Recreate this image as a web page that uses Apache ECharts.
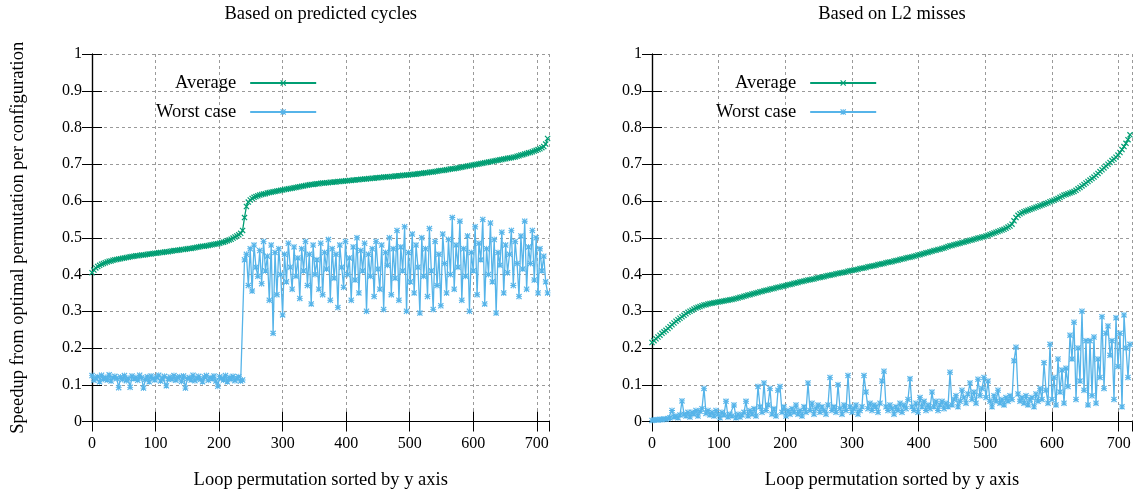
<!DOCTYPE html>
<html>
<head>
<meta charset="utf-8">
<script src="https://cdn.jsdelivr.net/npm/echarts@6/dist/echarts.min.js"></script>
<style>
  html, body { margin: 0; padding: 0; background: #fff; }
  #chart { width: 1138px; height: 495px; }
</style>
</head>
<body>
<div id="chart"></div>
<script>
// Loop permutations are ranked 0..719; every third rank is plotted.
const rankStep = 3;

// Speedup, ranking by predicted cycles
const cyclesAverage = [
  0.405,0.412,0.418,0.422,0.425,0.428,0.430,0.432,0.434,0.436,
  0.437,0.439,0.440,0.441,0.442,0.443,0.444,0.445,0.446,0.447,
  0.448,0.449,0.450,0.451,0.451,0.452,0.453,0.453,0.454,0.455,
  0.456,0.456,0.457,0.458,0.458,0.459,0.460,0.460,0.461,0.462,
  0.462,0.463,0.464,0.465,0.465,0.466,0.467,0.468,0.468,0.469,
  0.470,0.471,0.471,0.472,0.473,0.474,0.475,0.476,0.477,0.477,
  0.478,0.479,0.480,0.481,0.482,0.483,0.484,0.485,0.487,0.488,
  0.490,0.492,0.494,0.496,0.499,0.502,0.505,0.508,0.512,0.520,
  0.555,0.585,0.597,0.603,0.607,0.610,0.612,0.614,0.616,0.618,
  0.619,0.620,0.622,0.623,0.624,0.625,0.626,0.627,0.628,0.629,
  0.630,0.631,0.632,0.633,0.634,0.635,0.636,0.637,0.638,0.639,
  0.640,0.641,0.642,0.643,0.644,0.645,0.645,0.646,0.647,0.647,
  0.648,0.649,0.649,0.650,0.650,0.651,0.651,0.652,0.652,0.653,
  0.653,0.654,0.654,0.655,0.655,0.656,0.656,0.657,0.657,0.658,
  0.658,0.659,0.659,0.660,0.660,0.661,0.661,0.662,0.662,0.663,
  0.663,0.664,0.664,0.665,0.665,0.666,0.666,0.667,0.667,0.668,
  0.668,0.669,0.669,0.670,0.670,0.671,0.671,0.672,0.672,0.673,
  0.673,0.674,0.675,0.675,0.676,0.677,0.677,0.678,0.679,0.679,
  0.680,0.681,0.682,0.683,0.683,0.684,0.685,0.686,0.687,0.688,
  0.688,0.689,0.690,0.691,0.692,0.693,0.694,0.695,0.696,0.697,
  0.698,0.699,0.700,0.701,0.702,0.703,0.704,0.705,0.706,0.707,
  0.708,0.709,0.710,0.711,0.712,0.713,0.714,0.715,0.716,0.717,
  0.718,0.719,0.720,0.722,0.723,0.725,0.726,0.728,0.729,0.731,
  0.732,0.734,0.736,0.738,0.740,0.742,0.745,0.748,0.755,0.770
];
const cyclesWorst = [
  0.125,0.112,0.118,0.122,0.108,0.126,0.115,0.120,0.113,0.127,
  0.110,0.119,0.123,0.117,0.092,0.121,0.114,0.125,0.111,0.118,
  0.093,0.124,0.116,0.120,0.112,0.126,0.119,0.091,0.115,0.122,
  0.108,0.124,0.117,0.113,0.121,0.126,0.110,0.118,0.123,0.097,
  0.116,0.121,0.114,0.125,0.112,0.119,0.122,0.109,0.124,0.091,
  0.117,0.120,0.113,0.126,0.111,0.118,0.123,0.115,0.108,0.121,
  0.125,0.112,0.119,0.116,0.124,0.110,0.096,0.122,0.117,0.113,
  0.125,0.108,0.120,0.115,0.123,0.111,0.118,0.122,0.110,0.113,
  0.440,0.455,0.370,0.470,0.355,0.480,0.420,0.395,0.465,0.375,
  0.490,0.410,0.450,0.330,0.480,0.240,0.460,0.345,0.470,0.400,
  0.290,0.455,0.380,0.485,0.420,0.360,0.475,0.395,0.445,0.335,
  0.470,0.410,0.490,0.370,0.455,0.320,0.480,0.400,0.440,0.360,
  0.485,0.345,0.460,0.415,0.495,0.330,0.470,0.390,0.455,0.310,
  0.480,0.420,0.365,0.490,0.400,0.445,0.330,0.475,0.385,0.500,
  0.350,0.465,0.410,0.485,0.300,0.455,0.395,0.470,0.340,0.490,
  0.415,0.360,0.480,0.305,0.460,0.425,0.500,0.345,0.470,0.390,
  0.520,0.330,0.475,0.410,0.530,0.300,0.460,0.380,0.510,0.350,
  0.480,0.420,0.295,0.500,0.395,0.470,0.340,0.525,0.410,0.305,
  0.490,0.370,0.455,0.315,0.510,0.430,0.350,0.495,0.400,0.555,
  0.360,0.480,0.420,0.545,0.330,0.470,0.395,0.505,0.300,0.460,
  0.410,0.530,0.345,0.485,0.440,0.550,0.320,0.470,0.400,0.540,
  0.380,0.495,0.295,0.460,0.425,0.515,0.350,0.480,0.405,0.455,
  0.520,0.370,0.490,0.430,0.340,0.505,0.415,0.545,0.360,0.475,
  0.430,0.520,0.385,0.500,0.350,0.470,0.410,0.450,0.380,0.350
];

// Speedup, ranking by L2 misses
const l2Average = [
  0.215,0.220,0.225,0.230,0.235,0.240,0.244,0.248,0.253,0.258,
  0.263,0.268,0.273,0.277,0.281,0.285,0.289,0.293,0.297,0.300,
  0.303,0.306,0.309,0.311,0.313,0.315,0.317,0.318,0.320,0.321,
  0.322,0.323,0.324,0.325,0.326,0.327,0.328,0.329,0.330,0.331,
  0.332,0.333,0.335,0.336,0.338,0.339,0.341,0.342,0.344,0.345,
  0.347,0.348,0.350,0.351,0.353,0.354,0.356,0.357,0.358,0.360,
  0.361,0.362,0.364,0.365,0.366,0.368,0.369,0.370,0.372,0.373,
  0.374,0.376,0.377,0.378,0.380,0.381,0.382,0.384,0.385,0.386,
  0.387,0.388,0.390,0.391,0.392,0.393,0.394,0.396,0.397,0.398,
  0.399,0.400,0.402,0.403,0.404,0.405,0.406,0.407,0.409,0.410,
  0.411,0.412,0.413,0.414,0.416,0.417,0.418,0.419,0.421,0.422,
  0.423,0.424,0.425,0.427,0.428,0.429,0.430,0.432,0.433,0.434,
  0.435,0.437,0.438,0.439,0.441,0.442,0.443,0.445,0.446,0.447,
  0.448,0.450,0.451,0.453,0.454,0.456,0.457,0.459,0.460,0.462,
  0.463,0.465,0.466,0.468,0.469,0.471,0.472,0.474,0.476,0.478,
  0.479,0.481,0.482,0.484,0.485,0.487,0.488,0.490,0.491,0.493,
  0.494,0.496,0.497,0.499,0.500,0.502,0.503,0.505,0.507,0.509,
  0.511,0.513,0.515,0.517,0.519,0.521,0.523,0.526,0.529,0.532,
  0.537,0.546,0.555,0.561,0.565,0.568,0.571,0.573,0.575,0.577,
  0.579,0.581,0.583,0.585,0.587,0.589,0.591,0.593,0.595,0.598,
  0.600,0.602,0.605,0.607,0.610,0.613,0.616,0.618,0.620,0.622,
  0.624,0.626,0.629,0.633,0.637,0.641,0.645,0.649,0.653,0.657,
  0.661,0.665,0.670,0.675,0.680,0.685,0.690,0.695,0.700,0.705,
  0.710,0.714,0.719,0.725,0.732,0.740,0.748,0.757,0.767,0.780
];
const l2Worst = [
  0.003,0.004,0.005,0.004,0.006,0.005,0.007,0.006,0.008,0.010,
  0.030,0.012,0.015,0.010,0.018,0.056,0.020,0.015,0.025,0.012,
  0.025,0.020,0.030,0.015,0.028,0.035,0.090,0.022,0.030,0.018,
  0.025,0.015,0.030,0.020,0.010,0.025,0.018,0.055,0.012,0.020,
  0.015,0.045,0.010,0.020,0.012,0.018,0.025,0.055,0.015,0.030,
  0.020,0.035,0.015,0.095,0.040,0.025,0.105,0.030,0.045,0.090,
  0.020,0.035,0.015,0.085,0.095,0.025,0.040,0.015,0.030,0.020,
  0.035,0.025,0.045,0.020,0.030,0.015,0.040,0.025,0.105,0.030,
  0.050,0.020,0.035,0.045,0.025,0.040,0.030,0.020,0.045,0.120,
  0.030,0.040,0.025,0.100,0.035,0.020,0.045,0.030,0.125,0.040,
  0.025,0.035,0.045,0.020,0.030,0.040,0.125,0.080,0.035,0.050,
  0.030,0.045,0.040,0.025,0.050,0.110,0.137,0.040,0.030,0.045,
  0.035,0.020,0.040,0.030,0.050,0.025,0.045,0.035,0.060,0.116,
  0.040,0.030,0.050,0.025,0.065,0.040,0.055,0.030,0.045,0.035,
  0.080,0.040,0.055,0.030,0.045,0.055,0.035,0.050,0.040,0.134,
  0.045,0.060,0.070,0.040,0.055,0.085,0.065,0.050,0.075,0.105,
  0.060,0.080,0.050,0.115,0.070,0.090,0.120,0.065,0.110,0.055,
  0.040,0.070,0.055,0.085,0.050,0.060,0.045,0.065,0.055,0.070,
  0.060,0.165,0.202,0.075,0.055,0.065,0.050,0.070,0.045,0.060,
  0.065,0.040,0.075,0.055,0.090,0.060,0.160,0.085,0.050,0.210,
  0.060,0.120,0.045,0.170,0.080,0.140,0.050,0.145,0.095,0.235,
  0.170,0.270,0.060,0.200,0.110,0.300,0.085,0.220,0.045,0.220,
  0.070,0.230,0.050,0.170,0.120,0.285,0.090,0.240,0.260,0.180,
  0.220,0.060,0.282,0.150,0.240,0.040,0.290,0.200,0.120,0.210
];

const panelTitles = ['Based on predicted cycles', 'Based on L2 misses'];
const seriesNames = ['Average', 'Worst case'];
const xAxisTitle = 'Loop permutation sorted by y axis';
const yAxisTitle = 'Speedup from optimal permutation per configuration';

const GREEN = '#009e73';
const BLUE = '#56b4e9';
const FONT = '"Liberation Serif", "Times New Roman", serif';

// gnuplot-like point types: cross and asterisk
const CROSS = 'path://M0,1.4L1.4,0L10,8.6L8.6,10ZM8.6,0L10,1.4L1.4,10L0,8.6Z';
const STAR = 'path://M0,1.4L1.4,0L10,8.6L8.6,10ZM8.6,0L10,1.4L1.4,10L0,8.6ZM4.3,0L5.7,0L5.7,10L4.3,10ZM0,4.3L10,4.3L10,5.7L0,5.7Z';

const toPoints = arr => arr.map((v, i) => [i * rankStep, v]);

const grids = [
  { left: 92, top: 54, width: 457.5, height: 367.5 },
  { left: 652, top: 54, width: 480, height: 367.5 }
];

const dashedGrid = { show: true, lineStyle: { color: '#9a9a9a', width: 1, type: [3, 3] } };
const tickIn = { show: true, inside: true, length: 10, lineStyle: { color: '#000', width: 1 } };
const blackLine = { show: true, lineStyle: { color: '#000', width: 1.2 } };

const xAxes = [];
const yAxes = [];
grids.forEach((g, gi) => {
  xAxes.push({
    type: 'value', gridIndex: gi, position: 'bottom', min: 0, max: 720, interval: 100,
    axisLine: blackLine, axisTick: tickIn, splitLine: dashedGrid,
    axisLabel: { color: '#000', fontFamily: FONT, fontSize: 16, margin: 14, showMaxLabel: false },
    name: xAxisTitle, nameLocation: 'middle', nameGap: 49,
    nameTextStyle: { color: '#000', fontFamily: FONT, fontSize: 18.5 }
  });
  xAxes.push({
    type: 'value', gridIndex: gi, position: 'top', min: 0, max: 720, interval: 100,
    axisLine: blackLine, axisTick: tickIn, splitLine: { show: false }, axisLabel: { show: false }
  });
  yAxes.push({
    type: 'value', gridIndex: gi, position: 'left', min: 0, max: 1, interval: 0.1,
    axisLine: blackLine, axisTick: tickIn, splitLine: dashedGrid,
    axisLabel: { color: '#000', fontFamily: FONT, fontSize: 16, margin: 10 },
    name: gi === 0 ? yAxisTitle : '', nameLocation: 'middle', nameRotate: 90, nameGap: 64,
    nameTextStyle: { color: '#000', fontFamily: FONT, fontSize: 18.5 }
  });
  yAxes.push({
    type: 'value', gridIndex: gi, position: 'right', min: 0, max: 1, interval: 0.1,
    axisLine: blackLine, axisTick: tickIn, splitLine: { show: false }, axisLabel: { show: false }
  });
});

function lineSeries(name, data, panel, color, symbol) {
  return {
    type: 'line', name, data: toPoints(data),
    xAxisIndex: panel * 2, yAxisIndex: panel * 2,
    symbol, symbolSize: 6, showSymbol: true,
    lineStyle: { color, width: 1.3 },
    itemStyle: { color },
    emphasis: { disabled: true }, silent: true, animation: false
  };
}

const series = [
  lineSeries(seriesNames[0], cyclesAverage, 0, GREEN, CROSS),
  lineSeries(seriesNames[1], cyclesWorst, 0, BLUE, STAR),
  lineSeries(seriesNames[0], l2Average, 1, GREEN, CROSS),
  lineSeries(seriesNames[1], l2Worst, 1, BLUE, STAR)
];

const legendBase = {
  orient: 'vertical', align: 'right', top: 68,
  itemWidth: 66, itemHeight: 7.5, itemGap: 9,
  selectedMode: false, data: seriesNames,
  textStyle: { color: '#000', fontFamily: FONT, fontSize: 18.5, lineHeight: 20, padding: [0, 9, 0, 0] }
};

const chart = echarts.init(document.getElementById('chart'), null, { renderer: 'canvas' });
chart.setOption({
  animation: false,
  backgroundColor: '#fff',
  title: panelTitles.map((t, i) => ({
    text: t,
    left: grids[i].left + grids[i].width / 2,
    top: 5, padding: 0, textAlign: 'center',
    textStyle: { color: '#000', fontFamily: FONT, fontSize: 18.5, fontWeight: 'normal' }
  })),
  legend: [
    Object.assign({}, legendBase, { left: 151 }),
    Object.assign({}, legendBase, { left: 711 })
  ],
  grid: grids,
  xAxis: xAxes,
  yAxis: yAxes,
  series
});
</script>
</body>
</html>
